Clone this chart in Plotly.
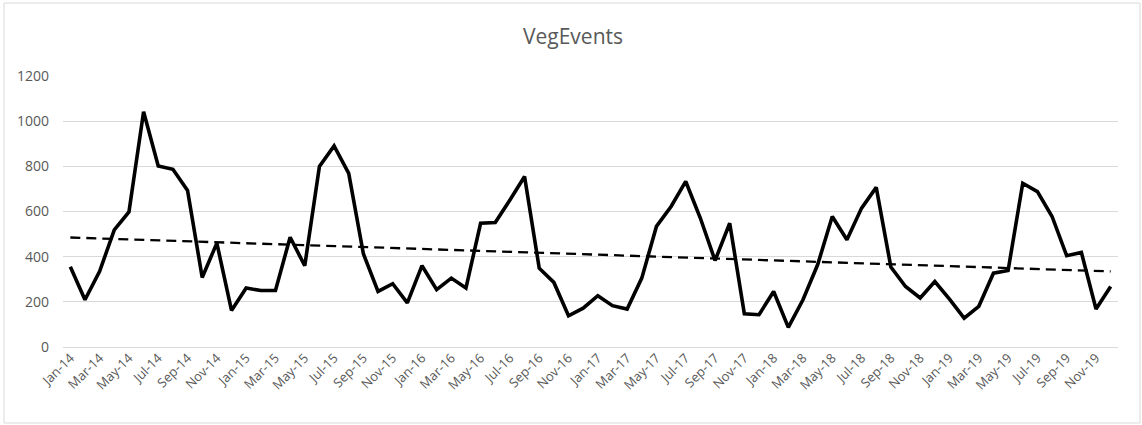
import numpy as np
import plotly.graph_objects as go

months = ["Jan", "Feb", "Mar", "Apr", "May", "Jun", "Jul", "Aug", "Sep", "Oct", "Nov", "Dec"]
years = ["14", "15", "16", "17", "18", "19"]
categories = [f"{m}-{y}" for y in years for m in months]

veg_events = [
    355, 209, 335, 519, 598, 1042, 802, 787, 693, 308, 460, 162,
    261, 250, 250, 486, 360, 799, 890, 769, 413, 246, 280, 195,
    360, 254, 305, 261, 548, 551, 651, 755, 349, 286, 138, 172,
    227, 183, 168, 305, 534, 622, 733, 570, 383, 548, 147, 143,
    246, 87, 209, 364, 578, 475, 615, 707, 354, 268, 217, 290,
    212, 128, 180, 327, 339, 725, 688, 578, 404, 419, 168, 268,
]

tick_labels = categories[::2]

x_idx = np.arange(len(veg_events))
slope, intercept = np.polyfit(x_idx, np.array(veg_events, dtype=float), 1)
trend = slope * x_idx + intercept

fig = go.Figure()
fig.add_trace(go.Scatter(x=x_idx, y=trend, mode="lines",
                         line=dict(color="black", width=2.3, dash="10px,6px"), name="Linear"))
fig.add_trace(go.Scatter(x=x_idx, y=veg_events, mode="lines",
                         line=dict(color="black", width=3.6), name="VegEvents"))

W, H = 1142, 425
ml, mr, mt, mb = 63, 24, 76, 78
pw, ph = W - ml - mr, H - mt - mb

fig.update_layout(
    width=W, height=H,
    margin=dict(l=ml, r=mr, t=mt, b=mb),
    paper_bgcolor="white", plot_bgcolor="white",
    showlegend=False,
    font=dict(family="Open Sans, sans-serif", color="#595959", size=12),
    title=dict(text="VegEvents", x=573 / W, xref="container", xanchor="center",
               y=1 - 37 / H, yref="container", yanchor="middle",
               font=dict(size=21, color="#595959")),
    xaxis=dict(range=[-0.5, len(veg_events) - 0.5],
               tickmode="array", tickvals=x_idx[::2], ticktext=tick_labels,
               tickangle=-45, showgrid=False, zeroline=False,
               showline=False, ticks="", tickfont=dict(size=13, color="#595959")),
    yaxis=dict(range=[0, 1200], tickvals=[0, 200, 400, 600, 800, 1000, 1200],
               showgrid=True, gridcolor="#d9d9d9", gridwidth=1,
               zeroline=True, zerolinecolor="#d9d9d9", zerolinewidth=1,
               showline=False, ticks="", ticklen=0, ticklabelstandoff=13,
               tickfont=dict(size=14, color="#595959")),
    shapes=[dict(type="rect", xref="paper", yref="paper",
                 x0=(4 - ml) / pw, x1=(1140 - ml) / pw,
                 y0=(H - mb - 423) / ph, y1=(H - mb - 3) / ph,
                 line=dict(color="#d9d9d9", width=1), fillcolor="rgba(0,0,0,0)",
                 layer="below")],
)

fig.write_html("out.html", config={"displayModeBar": False},
               post_script="document.body.style.margin='0';")
